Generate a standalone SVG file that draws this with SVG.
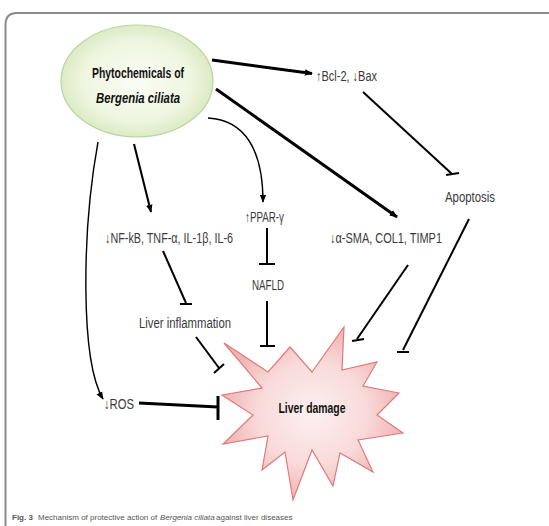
<svg xmlns="http://www.w3.org/2000/svg" width="549" height="526" viewBox="0 0 549 526">
<defs>
<style>
.t{font-family:"Liberation Sans",Arial,sans-serif;font-size:14px;fill:#3a3a3a}
.b{font-weight:bold;fill:#111}
.ln{stroke:#000;stroke-width:2;fill:none}
.thk{stroke:#000;stroke-width:3;fill:none}
.thin{stroke:#000;stroke-width:1.4;fill:none}
.cap{font-family:"Liberation Sans",Arial,sans-serif;font-size:8px;fill:#555}
</style>
<marker id="ah" viewBox="0 0 10 10" refX="9" refY="5" markerWidth="8" markerHeight="8" orient="auto" markerUnits="userSpaceOnUse">
<path d="M0,1 L10,5 L0,9 z" fill="#000"/>
</marker>
<radialGradient id="eg" cx="0.5" cy="0.5" r="0.5">
<stop offset="0" stop-color="#fbfdf5"/>
<stop offset="0.7" stop-color="#eef6e0"/>
<stop offset="1" stop-color="#dcebc6"/>
</radialGradient>
<radialGradient id="sg" cx="0.5" cy="0.5" r="0.5">
<stop offset="0" stop-color="#fdf0f0"/>
<stop offset="0.6" stop-color="#f9dada"/>
<stop offset="1" stop-color="#f1b4b4"/>
</radialGradient>
</defs>
<rect width="549" height="526" fill="#fff"/>
<g id="frame">
<path d="M5.5,526 V25 Q5.5,13 17,13 H549" fill="none" stroke="#8a8a8a" stroke-width="2"/>
</g>
<g id="connectors">
<path class="thk" d="M212,60 L312,73.5" marker-end="url(#ah)"/>
<path class="thk" d="M216,89 L397,217" marker-end="url(#ah)"/>
<path class="ln" d="M134,144 L151,212" marker-end="url(#ah)"/>
<path class="thin" d="M208,118 C245,120 263,150 263,202" marker-end="url(#ah)"/>
<path class="thin" d="M98,142 C82,230 80,360 103,399" marker-end="url(#ah)"/>
<path class="ln" d="M363,92 L452,174"/>
<path class="ln" d="M446,175 L459,173"/>
<path class="ln" d="M469,219 L403,350"/>
<path class="ln" d="M397,352 L409,352"/>
<path class="ln" d="M408,265 L357,339"/>
<path class="ln" d="M352,341 L364,339"/>
<path class="ln" d="M267,228 L267,264"/>
<path class="ln" d="M259,264 L275,264"/>
<path class="ln" d="M267,301 L267,346"/>
<path class="ln" d="M260,346 L275,346"/>
<path class="ln" d="M163,251 L186,303"/>
<path class="ln" d="M180,304 L192,304"/>
<path class="ln" d="M196,337 L219,368"/>
<path class="ln" d="M214,373 L224,364"/>
<path class="thk" d="M139,403 L218,407"/>
<path class="thk" d="M218,396 L218,420"/>
</g>
<g id="phytochemicals">
<ellipse cx="137" cy="81" rx="76" ry="56" fill="url(#eg)" stroke="#b9d59c" stroke-width="1.2"/>
<text class="t b" x="138" y="78" text-anchor="middle" font-size="15.5" textLength="92" lengthAdjust="spacingAndGlyphs">Phytochemicals of</text>
<text class="t b" x="138" y="103" text-anchor="middle" font-size="15.5" font-style="italic" textLength="84" lengthAdjust="spacingAndGlyphs">Bergenia ciliata</text>
</g>
<g id="bcl2">
<text class="t" x="316" y="81" textLength="61" lengthAdjust="spacingAndGlyphs">↑Bcl-2, ↓Bax</text>
</g>
<g id="apoptosis">
<text class="t" x="470" y="202" text-anchor="middle" textLength="50" lengthAdjust="spacingAndGlyphs">Apoptosis</text>
</g>
<g id="ppar">
<text class="t" x="245" y="222" textLength="39" lengthAdjust="spacingAndGlyphs">↑PPAR-γ</text>
</g>
<g id="nfkb">
<text class="t" x="105" y="243" textLength="128" lengthAdjust="spacingAndGlyphs">↓NF-kB, TNF-α, IL-1β, IL-6</text>
</g>
<g id="asma">
<text class="t" x="330" y="243" textLength="112" lengthAdjust="spacingAndGlyphs">↓α-SMA, COL1, TIMP1</text>
</g>
<g id="nafld">
<text class="t" x="268" y="290" text-anchor="middle" textLength="32" lengthAdjust="spacingAndGlyphs">NAFLD</text>
</g>
<g id="inflammation">
<text class="t" x="185" y="328" text-anchor="middle" textLength="92" lengthAdjust="spacingAndGlyphs">Liver inflammation</text>
</g>
<g id="ros">
<text class="t" x="104" y="409" textLength="30" lengthAdjust="spacingAndGlyphs">↓ROS</text>
</g>
<g id="liverdamage">
<polygon points="224,343 268,372 290,347 312,372 344,327 342,370 377,362 363,386 399,393 377,415 403,433 358,440 373,472 340,453 333,486 312,450 293,500 285,452 262,470 268,436 223,444 253,415 222,395 262,388" fill="url(#sg)" stroke="#e07a7a" stroke-width="1.2" stroke-linejoin="miter"/>
<text class="t b" x="312" y="413" text-anchor="middle" font-size="15" textLength="67" lengthAdjust="spacingAndGlyphs">Liver damage</text>
</g>
<g id="caption">
<text class="cap" x="12" y="520" font-weight="bold" fill="#222">Fig. 3</text>
<text class="cap" x="38" y="520">Mechanism of protective action of</text>
<text class="cap" x="160" y="520" font-style="italic">Bergenia ciliata</text>
<text class="cap" x="216" y="520">against liver diseases</text>
</g>
</svg>
